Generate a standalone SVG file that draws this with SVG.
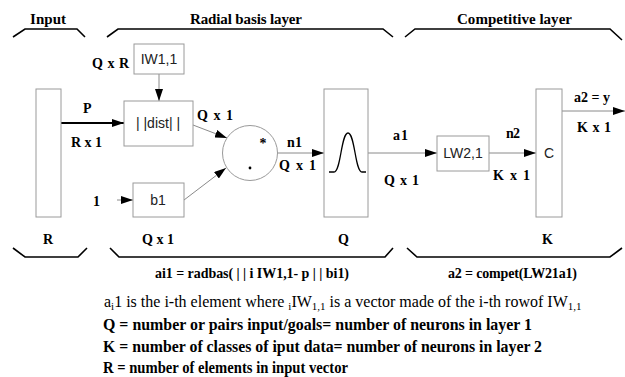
<svg xmlns="http://www.w3.org/2000/svg" width="625" height="377" viewBox="0 0 625 377">
<defs>
<style>
.b{fill:none;stroke:#000;stroke-width:1.6}
.box{fill:#fff;stroke:#9a9a9a;stroke-width:1}
.ln{fill:none;stroke:#8a8a8a;stroke-width:1}
.lb{font-family:"Liberation Serif",serif;font-weight:bold;font-size:14px;fill:#000}
.tt{font-family:"Liberation Serif",serif;font-weight:bold;font-size:15px;fill:#000}
.bx{font-family:"Liberation Sans",Arial,sans-serif;font-size:14px;fill:#222;text-anchor:middle}
.nt{font-family:"Liberation Serif",serif;font-size:16px;fill:#000}
.bt{font-family:"Liberation Serif",serif;font-weight:bold;font-size:16px;fill:#000}
</style>
<marker id="ah" viewBox="0 0 12 8" refX="12" refY="4" markerWidth="12" markerHeight="8" markerUnits="userSpaceOnUse" orient="auto">
<path d="M0,0 L12,4 L0,8 Z" fill="#000"/>
</marker>
</defs>
<rect width="625" height="377" fill="#fff"/>

<g id="brackets">
<polyline class="b" points="13,37 25,29 77,29 85,37"/>
<polyline class="b" points="107,37 118,29 383,29 393,37"/>
<polyline class="b" points="405,37 415,29 610,29 622,40"/>
<polyline class="b" points="13,248 25,257 78,257 87,248"/>
<polyline class="b" points="110,248 119,257 385,257 393,248"/>
<polyline class="b" points="407,248 417,257 610,257 622,248"/>
</g>

<g id="titles">
<text class="tt" x="30" y="24" textLength="36">Input</text>
<text class="tt" x="190" y="24" textLength="112">Radial basis layer</text>
<text class="tt" x="457" y="24" textLength="115">Competitive layer</text>
</g>

<g id="connectors">
<line x1="61" y1="123" x2="124" y2="123" stroke="#000" stroke-width="2" marker-end="url(#ah)"/>
<line class="ln" x1="159" y1="74" x2="159" y2="101" marker-end="url(#ah)"/>
<line class="ln" x1="193" y1="125" x2="227" y2="138" marker-end="url(#ah)"/>
<line class="ln" x1="117" y1="200" x2="133" y2="200" marker-end="url(#ah)"/>
<line class="ln" x1="184" y1="200" x2="226" y2="168" marker-end="url(#ah)"/>
<line class="ln" x1="277" y1="153" x2="324" y2="153" marker-end="url(#ah)"/>
<line class="ln" x1="368" y1="153" x2="437" y2="153" marker-end="url(#ah)"/>
<line class="ln" x1="489" y1="153" x2="536" y2="153" marker-end="url(#ah)"/>
<line class="ln" x1="562" y1="111" x2="625" y2="111" marker-end="url(#ah)"/>
</g>

<g id="input">
<rect class="box" x="36" y="89" width="25" height="128"/>
</g>
<g id="iw11">
<rect class="box" x="134" y="44" width="50" height="30"/>
<text class="bx" x="159" y="64">IW1,1</text>
</g>
<g id="dist">
<rect class="box" x="124" y="101" width="69" height="45"/>
<text class="bx" x="158" y="128" font-size="15">| |dist| |</text>
</g>
<g id="b1">
<rect class="box" x="133" y="183" width="51" height="34"/>
<text class="bx" x="158" y="205">b1</text>
</g>
<g id="sum">
<circle cx="250" cy="153" r="27.5" fill="#fff" stroke="#9a9a9a" stroke-width="1"/>
<text class="lb" x="263" y="148" text-anchor="middle" font-size="18">*</text>
<circle cx="250" cy="168" r="1.4" fill="#000"/>
</g>
<g id="radbas">
<rect class="box" x="324" y="89" width="44" height="128"/>
<path d="M329,172 H334 C341,172 341,133 348,133 C355,133 355,172 362,172 H366" fill="none" stroke="#000" stroke-width="1.3"/>
</g>
<g id="lw21">
<rect class="box" x="437" y="136" width="52" height="35"/>
<text class="bx" x="463" y="158">LW2,1</text>
</g>
<g id="compet">
<rect class="box" x="536" y="89" width="26" height="128"/>
<text class="bx" x="549" y="158">C</text>
</g>

<g id="labels">
<text class="lb" x="92" y="68" textLength="37">Q x R</text>
<text class="lb" x="83" y="113">P</text>
<text class="lb" x="71" y="147" textLength="31">R x 1</text>
<text class="lb" x="197" y="120" textLength="36">Q  x 1</text>
<text class="lb" x="93" y="206">1</text>
<text class="lb" x="287" y="147" textLength="15">n1</text>
<text class="lb" x="279" y="170" textLength="37">Q  x 1</text>
<text class="lb" x="393" y="140" textLength="15">a1</text>
<text class="lb" x="384" y="185" textLength="35">Q  x 1</text>
<text class="lb" x="506" y="138" textLength="14">n2</text>
<text class="lb" x="493" y="180" textLength="37">K  x 1</text>
<text class="lb" x="574" y="102" textLength="36">a2 = y</text>
<text class="lb" x="577" y="132" textLength="34">K  x 1</text>
<text class="lb" x="43" y="244">R</text>
<text class="lb" x="142" y="244" textLength="32">Q  x 1</text>
<text class="lb" x="338" y="244">Q</text>
<text class="lb" x="542" y="244">K</text>
<text class="lb" x="155" y="278" font-size="13" textLength="194">ai1 = radbas( | | i IW1,1- p | | bi1)</text>
<text class="lb" x="448" y="278" font-size="13" textLength="129">a2 = compet(LW21a1)</text>
</g>

<g id="notes">
<text class="nt" x="104" y="307">a<tspan font-size="11" dy="3">i</tspan><tspan dy="-3">1 is the i-th element where </tspan><tspan font-size="11" dy="3">i</tspan><tspan dy="-3">IW</tspan><tspan font-size="11" dy="3">1,1</tspan><tspan dy="-3"> is a vector made of the i-th rowof IW</tspan><tspan font-size="11" dy="3">1,1</tspan></text>
<text class="bt" x="103" y="330" textLength="429" lengthAdjust="spacingAndGlyphs">Q = number or pairs input/goals= number of neurons in layer 1</text>
<text class="bt" x="103" y="352" textLength="439" lengthAdjust="spacingAndGlyphs">K = number of classes of iput data= number of neurons in layer 2</text>
<text class="bt" x="103" y="373" textLength="245" lengthAdjust="spacingAndGlyphs">R = number of elements in input vector</text>
</g>
</svg>
